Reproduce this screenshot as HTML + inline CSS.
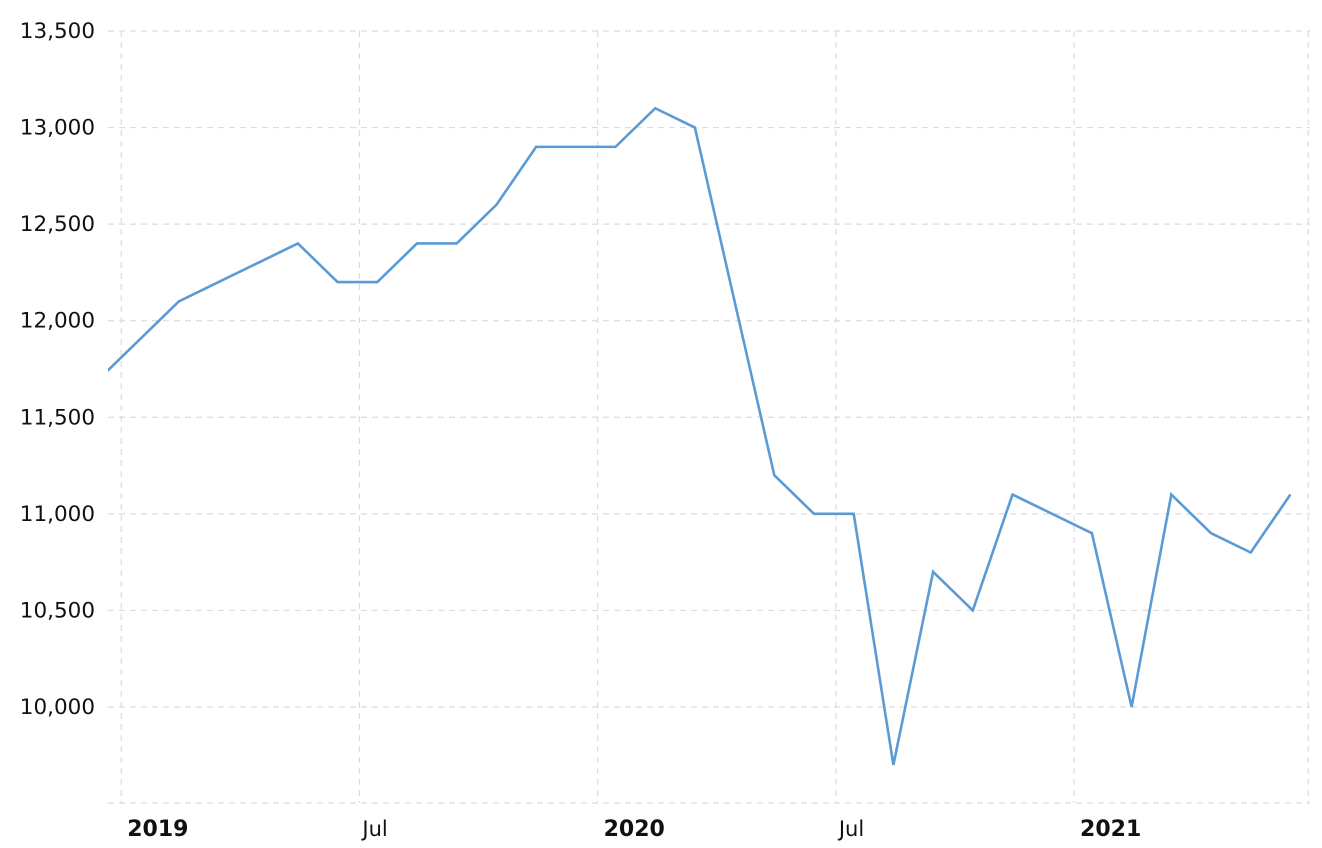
<!DOCTYPE html>
<html><head><meta charset="utf-8"><style>
html,body{margin:0;padding:0;background:#fff;}
svg{display:block;font-family:"DejaVu Sans","Liberation Sans",sans-serif;}
</style></head><body>
<svg id="chart" width="1322" height="848" viewBox="0 0 1322 848" xmlns="http://www.w3.org/2000/svg">
<defs><clipPath id="clip"><rect x="108" y="20" width="1205" height="790"/></clipPath></defs>
<g id="grid"></g>
<g id="yaxis"></g>
<g id="xaxis"></g>
<g id="series" clip-path="url(#clip)"></g>
</svg>
<script>
const values = [11700,11900,12100,12200,12300,12400,12200,12200,12400,12400,12600,12900,12900,12900,13100,13000,12100,11200,11000,11000,9700,10700,10500,11100,11000,10900,10000,11100,10900,10800,11100];
const yTicks = [10000,10500,11000,11500,12000,12500,13000,13500];
const xTickLabels = ["2019","Jul","2020","Jul","2021",""];
const xTickBold = [true,false,true,false,true,false];
const xTickMonths = [0.55,6.55,12.55,18.55,24.55,30.45];

const NS="http://www.w3.org/2000/svg";
const L=108,R=1310,T=31,B=803;
const y=v=>707-(v-10000)*(676/3500);
const x=i=>99.4+39.7*i;
function mk(tag,attrs,parent){const e=document.createElementNS(NS,tag);for(const k in attrs)e.setAttribute(k,attrs[k]);parent.appendChild(e);return e;}
const grid=document.getElementById('grid'),ya=document.getElementById('yaxis'),xa=document.getElementById('xaxis'),se=document.getElementById('series');
yTicks.forEach(v=>{
  const g=mk('line',{x1:L,x2:R,y1:y(v),y2:y(v),stroke:'#dcdcdc','stroke-width':1.2,'stroke-dasharray':'6,5'},grid);
  
  
  const t=mk('text',{x:95,y:y(v)+7,'text-anchor':'end','font-size':21.5,fill:'#111'},ya);
  t.textContent=v.toLocaleString('en-US');
  
  
});
xTickMonths.forEach((m,i)=>{
  const gx=x(m);
  const g=mk('line',{x1:gx,x2:gx,y1:T,y2:B,stroke:'#dcdcdc','stroke-width':1.2,'stroke-dasharray':'6,5'},grid);
  
  
  if(xTickLabels[i]){
    const t=mk('text',{x:gx+(xTickBold[i]?6:3),y:836,'font-size':xTickBold[i]?22:21,fill:'#111','font-weight':xTickBold[i]?'bold':'normal'},xa);
    t.textContent=xTickLabels[i];
    
    
  }
});
const ax=mk('line',{x1:L,x2:R,y1:B,y2:B,stroke:'#dcdcdc','stroke-width':1.2,'stroke-dasharray':'6,5'},xa);


const p=mk('polyline',{points:values.map((v,i)=>x(i)+','+y(v)).join(' '),fill:'none',stroke:'#5b9bd5','stroke-width':2.6,'stroke-linejoin':'miter'},se);


</script>
</body></html>
